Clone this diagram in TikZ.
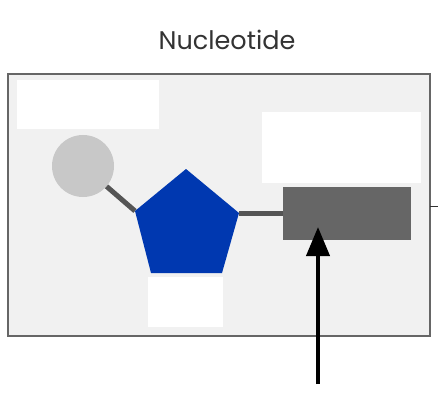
\documentclass[tikz,border=0pt]{standalone}
\usepackage{fontspec}
\setmainfont{Poppins}
\usetikzlibrary{arrows.meta}
\definecolor{boxfill}{HTML}{F1F1F1}
\definecolor{boxline}{HTML}{666666}
\definecolor{sugar}{HTML}{0038B0}
\definecolor{phos}{HTML}{C8C8C8}
\definecolor{bond}{HTML}{555555}
\definecolor{base}{HTML}{666666}
\definecolor{titlec}{HTML}{333333}
\tikzset{
  x=1pt, y=-1pt,
  blank/.style={fill=white, draw=none},
  bondline/.style={draw=bond, line width=5pt},
}
\begin{document}
\begin{tikzpicture}
\useasboundingbox (0,0) rectangle (438,406);
\node[text=titlec, font=\fontsize{25.5}{30}\selectfont, anchor=base] (title) at (227,50) {Nucleotide};
% outer box
\draw[draw=boxline, fill=boxfill, line width=2.5pt] (8,74) rectangle (430,336);
\coordinate (boxr) at (430,206);
\coordinate (offr) at (438,206);
\draw[draw=black!80, line width=1pt] (boxr) -- (offr);
% blank label boxes
\fill[blank] (17,80) rectangle (159,129);
\fill[blank] (262,112) rectangle (421,183);
\fill[blank] (148,277) rectangle (223,327);
% bonds
\coordinate (pL) at (135,211);
\coordinate (pR) at (239,213);
\node[circle, fill=phos, minimum size=62pt, inner sep=0pt] (phosphate) at (83,166) {};
\node[fill=base, minimum width=128pt, minimum height=53pt, inner sep=0pt, anchor=north west] (nbase) at (283,187) {};
\draw[bondline] (phosphate) -- (pL);
\draw[bondline] (pR) -- (pR -| nbase.west);
% sugar pentagon
\fill[sugar] (186,169) -- (pR) -- (222,273) -- (151,273) -- (pL) -- cycle;
% arrow
\coordinate (arrowstart) at (318,384);
\coordinate (arrowtip) at (318,227);
\draw[line width=4pt, -{Triangle[length=29pt, width=23pt]}] (arrowstart) -- (arrowtip);
\end{tikzpicture}
\end{document}
